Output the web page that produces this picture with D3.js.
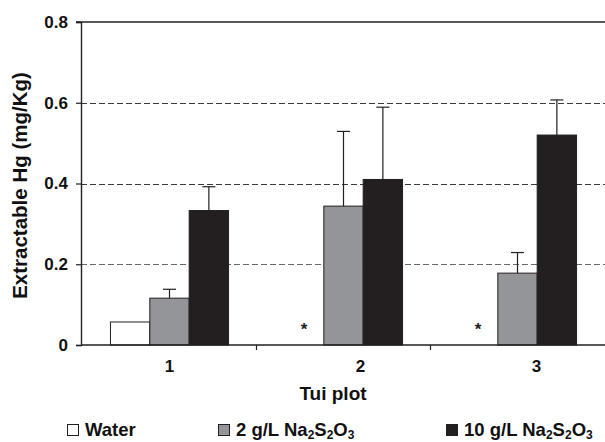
<!DOCTYPE html>
<html>
<head>
<meta charset="utf-8">
<script src="https://cdn.jsdelivr.net/npm/d3@7/dist/d3.min.js"></script>
<style>
  html, body { margin: 0; padding: 0; background: #fff; }
  svg { display: block; font-family: Arial, "Liberation Sans", sans-serif; font-weight: bold; }
</style>
</head>
<body>
<svg id="chart" width="605" height="442"></svg>
<script>
// ---- data ----
const categories = ["1", "2", "3"];
const seriesNames = ["Water", "2 g/L", "10 g/L"];
const waterValues = [0.057, null, null];
const na2Values = [0.116, 0.344, 0.178];
const na10Values = [0.333, 0.41, 0.52];
const waterErrors = [0, null, null];
const na2Errors = [0.022, 0.185, 0.051];
const na10Errors = [0.059, 0.179, 0.087];
const yTicks = [0, 0.2, 0.4, 0.6, 0.8];
const yTickLabels = ["0", "0.2", "0.4", "0.6", "0.8"];
const missingMark = "*";

(function () {
// ---- layout ----
const svg = d3.select("#chart");
const W = 605, H = 442;
const pLeft = 81, pRight = 604.5, pTop = 22, pBottom = 345;
const dark = "#231f20";
const textCol = "#111";
const fills = ["#ffffff", "#939598", "#231f20"];
const labelDx = [0, 17, 19];

const x0 = d3.scaleBand().domain(categories).range([pLeft + 1.5, pRight]).padding(0);
const x1 = d3.scaleBand().domain(seriesNames).range([0, x0.bandwidth()])
  .paddingInner(0).paddingOuter(0.71);
const y = d3.scaleLinear().domain([0, 0.8]).range([pBottom, pTop]);

const series = [
  { name: seriesNames[0], values: waterValues, errors: waterErrors, fill: fills[0] },
  { name: seriesNames[1], values: na2Values, errors: na2Errors, fill: fills[1] },
  { name: seriesNames[2], values: na10Values, errors: na10Errors, fill: fills[2] }
];

// gridlines
svg.append("g").selectAll("line")
  .data(yTicks.filter(t => t > 0 && t < 0.8))
  .join("line")
  .attr("x1", pLeft).attr("x2", W)
  .attr("y1", d => Math.round(y(d)) + 0.5).attr("y2", d => Math.round(y(d)) + 0.5)
  .attr("stroke", (d, i) => i === 0 ? "#6a6a6a" : "#3a3a3a")
  .attr("stroke-width", 1)
  .attr("stroke-dasharray", "6,3");

// top line at 0.8
svg.append("line")
  .attr("x1", 76).attr("x2", W)
  .attr("y1", y(0.8)).attr("y2", y(0.8))
  .attr("stroke", dark).attr("stroke-width", 1.4);

// bars
const flat = [];
categories.forEach((c, ci) => {
  series.forEach(s => {
    flat.push({ cat: c, ci, name: s.name, v: s.values[ci], e: s.errors[ci], fill: s.fill });
  });
});

svg.append("g").selectAll("rect")
  .data(flat.filter(d => d.v != null))
  .join("rect")
  .attr("x", d => x0(d.cat) + x1(d.name))
  .attr("y", d => y(d.v))
  .attr("width", x1.bandwidth())
  .attr("height", d => y(0) - y(d.v))
  .attr("fill", d => d.fill)
  .attr("stroke", dark)
  .attr("stroke-width", 1);

// error bars (upward only)
const cx = d => x0(d.cat) + x1(d.name) + x1.bandwidth() / 2;
const errs = flat.filter(d => d.v != null && d.e);
const gErr = svg.append("g").attr("stroke", dark).attr("stroke-width", 1.2);
gErr.selectAll("line.v")
  .data(errs).join("line").attr("class", "v")
  .attr("x1", cx).attr("x2", cx)
  .attr("y1", d => y(d.v)).attr("y2", d => y(d.v + d.e));
gErr.selectAll("line.c")
  .data(errs).join("line").attr("class", "c")
  .attr("x1", d => cx(d) - 6.5).attr("x2", d => cx(d) + 6.5)
  .attr("y1", d => y(d.v + d.e)).attr("y2", d => y(d.v + d.e));

// missing-value asterisks
svg.append("g").selectAll("text")
  .data(flat.filter(d => d.v == null))
  .join("text")
  .attr("x", cx)
  .attr("y", y(0) - 10)
  .attr("text-anchor", "middle")
  .attr("font-size", 17)
  .attr("fill", dark)
  .text(missingMark);

// y axis
const yAxis = d3.axisLeft(y).tickValues(yTicks)
  .tickFormat((d, i) => yTickLabels[i]).tickSize(5).tickPadding(8);
const gy = svg.append("g").attr("transform", `translate(${pLeft},0)`).call(yAxis);
gy.select(".domain").attr("stroke", dark).attr("stroke-width", 1.4);
gy.selectAll(".tick line").attr("stroke", dark).attr("stroke-width", 1.2);
gy.selectAll(".tick text").attr("font-size", 17).attr("font-weight", "bold")
  .attr("font-family", "Arial, 'Liberation Sans', sans-serif").attr("fill", textCol);

// x axis line
svg.append("line")
  .attr("x1", pLeft).attr("x2", W)
  .attr("y1", pBottom).attr("y2", pBottom)
  .attr("stroke", dark).attr("stroke-width", 1.6);
// x tick marks at group boundaries
svg.append("g").selectAll("line")
  .data(categories.slice(1))
  .join("line")
  .attr("x1", d => x0(d)).attr("x2", d => x0(d))
  .attr("y1", pBottom).attr("y2", pBottom + 5)
  .attr("stroke", dark).attr("stroke-width", 1.2);
// x labels
svg.append("g").selectAll("text")
  .data(categories)
  .join("text")
  .attr("x", (d, i) => x0(d) + x0.bandwidth() / 2 + labelDx[i])
  .attr("y", 372)
  .attr("text-anchor", "middle")
  .attr("font-size", 17)
  .attr("fill", textCol)
  .text(d => d);

// axis titles
svg.append("text")
  .attr("x", 333).attr("y", 400)
  .attr("text-anchor", "middle")
  .attr("font-size", 19).attr("fill", textCol)
  .text("Tui plot");
svg.append("text")
  .attr("transform", `translate(27,${(pTop + pBottom) / 2 + 2}) rotate(-90)`)
  .attr("text-anchor", "middle")
  .attr("font-size", 20.5).attr("fill", textCol)
  .text("Extractable Hg (mg/Kg)");

// legend
const legendItems = [
  { fill: fills[0], x: 67, parts: [["Water", false]] },
  { fill: fills[1], x: 218, parts: [["2 g/L Na", false], ["2", true], ["S", false], ["2", true], ["O", false], ["3", true]] },
  { fill: fills[2], x: 446, parts: [["10 g/L Na", false], ["2", true], ["S", false], ["2", true], ["O", false], ["3", true]] }
];
const lg = svg.append("g");
legendItems.forEach(it => {
  lg.append("rect")
    .attr("x", it.x + 0.5).attr("y", 424.5)
    .attr("width", 11).attr("height", 11)
    .attr("fill", it.fill).attr("stroke", dark).attr("stroke-width", 1);
  const t = lg.append("text")
    .attr("x", it.x + 18).attr("y", 435.5)
    .attr("font-size", 18.5).attr("fill", textCol);
  let prevSub = false;
  it.parts.forEach(([s, sub]) => {
    const ts = t.append("tspan").text(s);
    if (sub) ts.attr("font-size", 12);
    ts.attr("dy", sub && !prevSub ? 3 : (!sub && prevSub ? -3 : 0));
    prevSub = sub;
  });
});
})();
</script>
</body>
</html>
